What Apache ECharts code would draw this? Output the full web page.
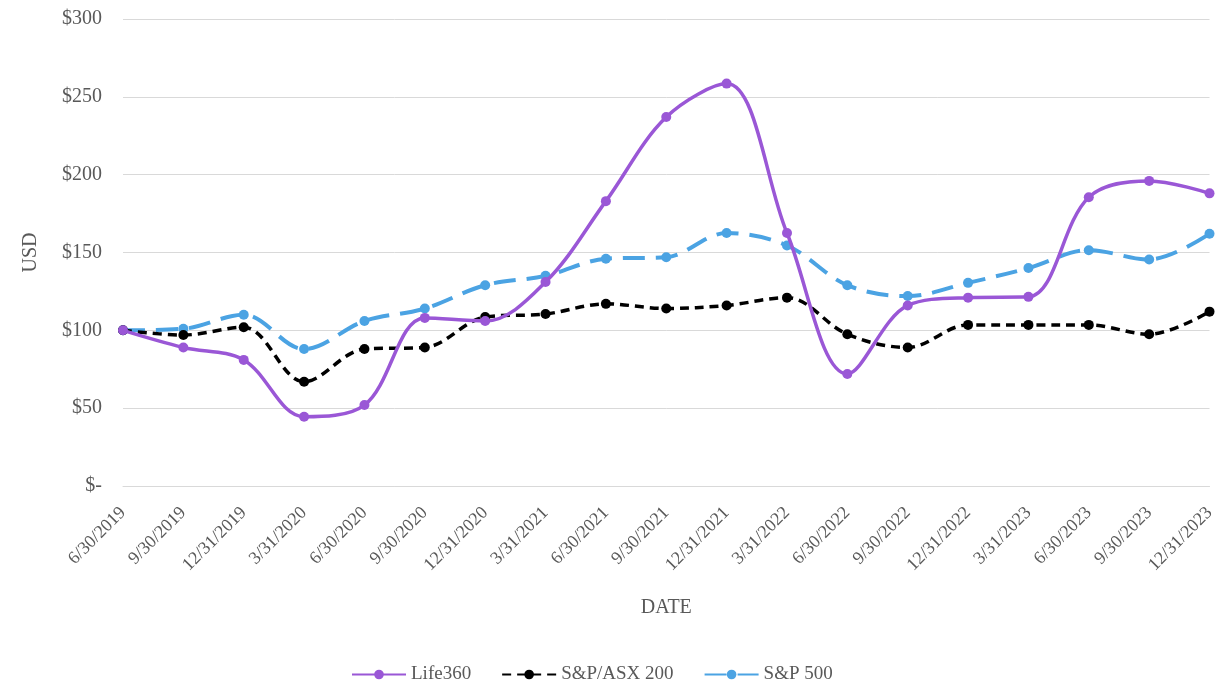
<!DOCTYPE html>
<html>
<head>
<meta charset="utf-8">
<script src="https://cdn.jsdelivr.net/npm/echarts@6/dist/echarts.min.js"></script>
<style>
html,body{margin:0;padding:0;background:#fff;}
#chart{width:1218px;height:684px;}
</style>
</head>
<body>
<div id="chart"></div>
<script>
const categories = ["6/30/2019","9/30/2019","12/31/2019","3/31/2020","6/30/2020","9/30/2020","12/31/2020","3/31/2021","6/30/2021","9/30/2021","12/31/2021","3/31/2022","6/30/2022","9/30/2022","12/31/2022","3/31/2023","6/30/2023","9/30/2023","12/31/2023"];
const life360 = [100, 89, 81, 44.5, 52, 108, 106, 131, 183, 237, 258.5, 162.5, 72, 116, 121, 121.5, 185.5, 196, 188];
const asx200 = [100, 97, 102, 67, 88, 89, 108.5, 110.5, 117, 114, 116, 121, 97.5, 89, 103.5, 103.5, 103.5, 97.5, 112];
const sp500 = [100, 101, 110, 88, 106, 114, 129, 135, 146, 147, 162.5, 154.5, 129, 122, 130.5, 140, 151.5, 145.5, 162];
const seriesNames = ["Life360", "S&P/ASX 200", "S&P 500"];

const font = "'Liberation Serif', 'Times New Roman', serif";
const grey = "#595959";
const chart = echarts.init(document.getElementById('chart'));
chart.setOption({
  animation: false,
  backgroundColor: '#fff',
  grid: {left: 123, right: 4, top: 19, bottom: 198, containLabel: false},
  legend: {
    left: 346, top: 660,
    itemWidth: 54, itemHeight: 12, itemGap: 30,
    textStyle: {fontFamily: font, fontSize: 19, color: grey},
    data: seriesNames
  },
  xAxis: {
    type: 'category', data: categories, boundaryGap: false,
    name: 'DATE', nameLocation: 'middle', nameGap: 112,
    nameTextStyle: {fontFamily: font, fontSize: 20, color: grey},
    axisLine: {show: true, lineStyle: {color: '#d9d9d9', width: 1}},
    axisTick: {show: false},
    axisLabel: {rotate: 45, fontFamily: font, fontSize: 18, color: grey, margin: 24, interval: 0}
  },
  yAxis: {
    type: 'value', min: 0, max: 300, interval: 50,
    name: 'USD', nameLocation: 'middle', nameGap: 82, nameRotate: 90,
    nameTextStyle: {fontFamily: font, fontSize: 20, color: grey},
    axisLine: {show: false}, axisTick: {show: false},
    splitLine: {lineStyle: {color: '#d9d9d9', width: 1}},
    axisLabel: {fontFamily: font, fontSize: 20, color: grey, margin: 21,
      formatter: v => v === 0 ? '$-' : '$' + v}
  },
  series: [
    {name: seriesNames[0], type: 'line', data: life360, smooth: 0.35,
     symbol: 'circle', symbolSize: 10,
     lineStyle: {color: '#9A57D6', width: 3.5},
     itemStyle: {color: '#9A57D6'}, z: 3},
    {name: seriesNames[1], type: 'line', data: asx200, smooth: 0.35,
     symbol: 'circle', symbolSize: 10,
     lineStyle: {color: '#000', width: 3.5, type: [9, 6]},
     itemStyle: {color: '#000'}, z: 2},
    {name: seriesNames[2], type: 'line', data: sp500, smooth: 0.35,
     symbol: 'circle', symbolSize: 10,
     lineStyle: {color: '#4BA3E3', width: 4, type: [22, 11]},
     itemStyle: {color: '#4BA3E3'}, z: 1}
  ]
});
</script>
</body>
</html>
